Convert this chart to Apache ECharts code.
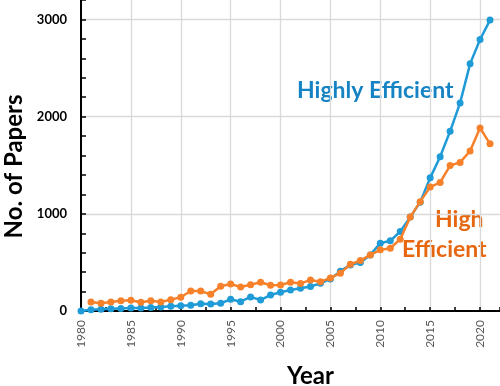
<!DOCTYPE html>
<html><head><meta charset="utf-8">
<script src="https://cdn.jsdelivr.net/npm/echarts@6/dist/echarts.min.js"></script>
<style>html,body{margin:0;padding:0;background:#fff}#c{width:500px;height:386px}</style>
</head><body><div id="c"></div>
<script>
const years = [1980,1981,1982,1983,1984,1985,1986,1987,1988,1989,1990,1991,1992,1993,1994,1995,1996,1997,1998,1999,2000,2001,2002,2003,2004,2005,2006,2007,2008,2009,2010,2011,2012,2013,2014,2015,2016,2017,2018,2019,2020,2021];
const highlyEfficient = [0,12,18,22,26,30,32,35,42,48,55,60,75,72,80,120,96,145,113,165,193,216,234,251,285,330,410,474,498,577,698,722,818,966,1120,1370,1588,1849,2141,2543,2794,2993];
const highEfficient = [null,93,79,93,106,110,90,106,93,117,141,206,205,172,255,278,247,271,296,265,268,296,282,320,302,340,389,481,519,577,629,646,739,966,1125,1275,1323,1497,1529,1646,1884,1720];
const yTicks = [0,1000,2000,3000];
const xTickYears = [1980,1985,1990,1995,2000,2005,2010,2015,2020];

const FONT = 'Lato, "Open Sans", sans-serif';
const chart = echarts.init(document.getElementById('c'), null, {renderer:'canvas'});
const pairs = arr => years.map((y,i)=>[y, arr[i]]);
chart.setOption({
  animation:false,
  grid:{left:81, right:0, top:0, bottom:75, containLabel:false, outerBoundsMode:'none'},
  xAxis:[{
    type:'value', min:1980, max:2022, interval:5,
    name:'Year', nameLocation:'middle', nameGap:53,
    nameTextStyle:{fontFamily:FONT, fontWeight:'bold', fontSize:24, color:'#000', padding:[0,0,0,40]},
    axisLine:{show:true, onZero:false, lineStyle:{color:'#000', width:2}},
    axisTick:{show:false},
    axisLabel:{rotate:90, margin:9, color:'#595959', fontFamily:FONT, fontSize:12,
      formatter:v=> xTickYears.includes(v) ? String(v) : ''},
    splitLine:{show:true, showMaxLine:false, lineStyle:{color:'#d9d9d9', width:1.3}}
  },{
    type:'value', min:1980, max:2022, interval:2.5, position:'bottom',
    axisLine:{show:false}, axisLabel:{show:false}, splitLine:{show:false},
    axisTick:{show:true, inside:true, length:4, lineStyle:{color:'#000', width:1.5}}
  }],
  yAxis:[{
    type:'value', min:0, max:3200, interval:1000,
    name:'No. of Papers', nameLocation:'middle', nameGap:52, nameRotate:90,
    nameTextStyle:{fontFamily:FONT, fontWeight:'bold', fontSize:24, color:'#000', padding:[0,22,0,0]},
    axisLine:{show:true, lineStyle:{color:'#000', width:2}},
    axisTick:{show:false},
    axisLabel:{margin:14, color:'#000', fontWeight:'bold', fontFamily:FONT, fontSize:13,
      formatter:v=> yTicks.includes(v) ? String(v) : ''},
    splitLine:{show:true, showMinLine:false, showMaxLine:false, lineStyle:{color:'#d9d9d9', width:1.3}}
  },{
    type:'value', min:0, max:3200, interval:200, position:'left',
    axisLine:{show:false}, axisLabel:{show:false}, splitLine:{show:false},
    axisTick:{show:true, inside:true, length:5, lineStyle:{color:'#000', width:1.5}}
  }],
  series:[{
    name:'Highly Efficient', type:'line', data:pairs(highlyEfficient),
    symbol:'circle', symbolSize:7, lineStyle:{width:2.5, color:'#1f9bd7'},
    itemStyle:{color:'#1f9bd7'}, z:3
  },{
    name:'High Efficient', type:'line', data:pairs(highEfficient),
    symbol:'circle', symbolSize:7, lineStyle:{width:2.5, color:'#f7812a'},
    itemStyle:{color:'#f7812a'}, z:4
  }],
  graphic:[
    {type:'text', x:297, y:91, style:{text:'Highly Efficient', font:'bold 23px '+FONT, fill:'#1684c4', verticalAlign:'middle'}},
    {type:'text', x:435, y:220, style:{text:'High', font:'bold 23px '+FONT, fill:'#e6670f', verticalAlign:'middle'}},
    {type:'text', x:402, y:250, style:{text:'Efficient', font:'bold 23px '+FONT, fill:'#e6670f', verticalAlign:'middle'}}
  ]
});
</script></body></html>
